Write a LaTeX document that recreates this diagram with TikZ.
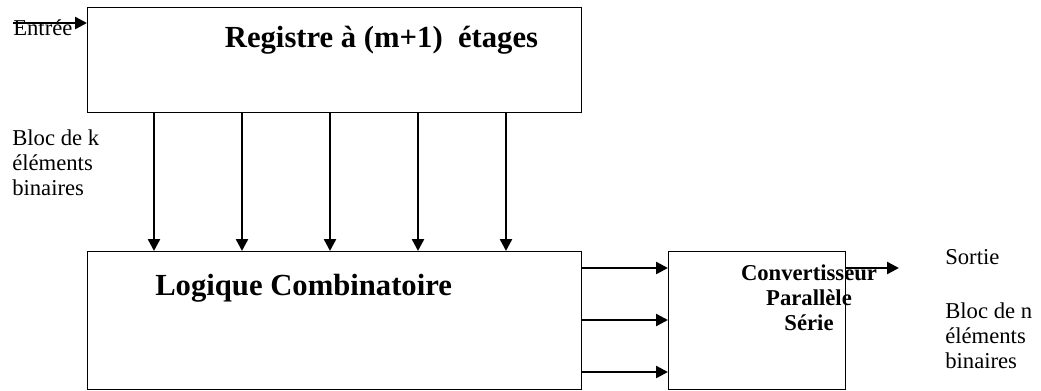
\documentclass[tikz,border=0pt]{standalone}
\usepackage{fontspec}
\setmainfont{Liberation Serif}
\usetikzlibrary{arrows.meta}

\tikzset{
  bloc/.style={draw,line width=1pt,anchor=north west,inner sep=0pt},
  fleche/.style={line width=1.8pt,-{Triangle[length=9pt,width=9pt]}},
  titre/.style={font=\fontsize{23}{26}\selectfont\bfseries,inner sep=0pt},
  texte/.style={font=\fontsize{17}{18.75}\selectfont,align=left,inner sep=0pt,anchor=base west}
}

\begin{document}
\begin{tikzpicture}[x=0.75pt,y=-0.75pt]
        \useasboundingbox (0,0) rectangle (1041,390);
        \node[bloc,minimum width=370.5pt,minimum height=78.75pt] (reg) at (87,7) {};
        \node[bloc,minimum width=370.5pt,minimum height=103.5pt] (logic) at (87,251) {};
        \node[bloc,minimum width=132.75pt,minimum height=103.5pt] (conv) at (668,251) {};

        \node[titre,anchor=base] (regtxt) at (381.5,47) {Registre à (m+1)~ étages};
        \node[titre,anchor=base west] (logtxt) at (155,295) {Logique Combinatoire};

        \node[texte] (entree) at (13,35) {Entrée};
        \coordinate (in) at (13,23);
        \draw[fleche] (in) -- (in -| reg.west);

        % base = baseline of the last line
        \node[texte] (blk) at (12,195) {Bloc de k\\éléments\\binaires};
        \foreach \x in {154,242,330,418,506}
          \draw[fleche] (reg.south -| \x,0) -- (logic.north -| \x,0);

        \foreach \y in {268,320,372}
          \draw[fleche] (logic.east |- 0,\y) -- (conv.west |- 0,\y);

        \coordinate (out) at (899,268);
        \draw[fleche] (conv.east |- out) -- (out);
        \node[font=\fontsize{17}{18.75}\selectfont\bfseries,align=center,inner sep=0pt,anchor=base] (convtxt) at (809,330) {Convertisseur\\Parallèle\\Série};

        \node[texte] (sortie) at (945,264) {Sortie};
        \node[texte] (bln) at (945,368) {Bloc de n\\éléments\\binaires};
\end{tikzpicture}
\end{document}
